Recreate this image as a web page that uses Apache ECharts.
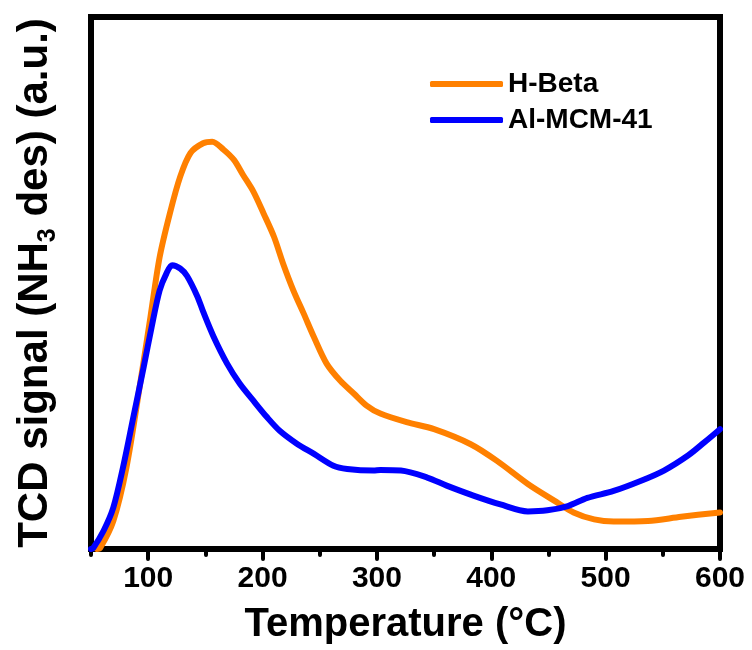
<!DOCTYPE html>
<html>
<head>
<meta charset="utf-8">
<script src="https://cdn.jsdelivr.net/npm/echarts@6/dist/echarts.min.js"></script>
<style>
html,body{margin:0;padding:0;background:#fff;}
#chart{width:752px;height:650px;}
</style>
</head>
<body>
<div id="chart"></div>
<script>
// Temperature (°C) sample points and TCD signal values (a.u.)
var tempOrange = [55, 58, 69.5, 81, 93, 102, 110, 119, 128, 137, 148, 156, 166, 175, 183, 192, 201, 210, 218, 227, 236, 245, 256, 268, 280, 291, 303, 326, 350, 382, 405, 432, 455, 472, 490, 507, 537, 566, 600];
var hBeta = [0, 0.2, 5.2, 15.2, 30.8, 43.2, 54.3, 62.5, 69.3, 73.7, 75.5, 75.8, 74.3, 72.4, 69.6, 66.5, 62.4, 58.1, 53.1, 48.1, 43.8, 39.4, 34.5, 31.3, 28.9, 26.7, 25.2, 23.6, 22.3, 19.5, 16.4, 12.1, 9.0, 6.8, 5.5, 5.1, 5.2, 6.0, 6.8];

var tempBlue = [50, 52, 61, 69.5, 78, 87, 96, 103, 110, 116, 121, 128, 134, 143, 148, 157, 169, 180, 192, 204, 215, 230, 245, 262, 274, 297, 303, 321, 344, 361, 385, 408, 432, 449, 467, 484, 507, 531, 551, 572, 586, 600];
var alMCM41 = [0, 0.2, 3.4, 7.7, 15.2, 24.5, 33.8, 41.3, 48.1, 51.3, 52.8, 52.2, 50.8, 47.0, 44.2, 39.6, 34.5, 30.8, 27.6, 24.5, 22.0, 19.6, 17.7, 15.5, 14.9, 14.6, 14.7, 14.6, 13.3, 11.8, 9.9, 8.3, 7.0, 7.2, 8.0, 9.5, 10.8, 12.7, 14.6, 17.4, 19.8, 22.3];

var seriesNames = ['H-Beta', 'Al-MCM-41'];
var majorTicks = [100, 200, 300, 400, 500, 600];
var minorTicks = [50, 150, 250, 350, 450, 550];

function pairs(xs, ys) { return xs.map(function (x, i) { return [x, ys[i]]; }); }

var FONT = 'Arial, "Liberation Sans", sans-serif';
var chart = echarts.init(document.getElementById('chart'), null, {renderer: 'canvas'});
chart.setOption({
  animation: false,
  backgroundColor: '#fff',
  grid: {left: 91, right: 32, top: 17, bottom: 101, show: true, borderColor: '#000', borderWidth: 6, backgroundColor: 'transparent', outerBoundsMode: 'none', containLabel: false},
  legend: {
    orient: 'vertical', left: 425, top: 64, itemGap: 6, itemWidth: 73, itemHeight: 6,
    icon: 'roundRect',
    data: seriesNames,
    textStyle: {fontFamily: FONT, fontWeight: 'bold', fontSize: 28, color: '#000', lineHeight: 30}
  },
  xAxis: [{
    type: 'value', min: 50, max: 600,
    axisLine: {show: true, lineStyle: {color: '#000', width: 6}},
    axisTick: {show: true, inside: false, length: 10, customValues: majorTicks, lineStyle: {color: '#000', width: 4, cap: 'round'}},
    axisLabel: {customValues: majorTicks, margin: 15, fontFamily: FONT, fontWeight: 'bold', fontSize: 30, color: '#000'},
    splitLine: {show: false},
    name: 'Temperature (°C)', nameLocation: 'middle', nameGap: 56,
    nameTextStyle: {fontFamily: FONT, fontWeight: 'bold', fontSize: 40, color: '#000'}
  }, {
    type: 'value', min: 50, max: 600, position: 'bottom',
    axisLine: {show: false},
    axisTick: {show: true, inside: false, length: 6, customValues: minorTicks, lineStyle: {color: '#000', width: 4, cap: 'round'}},
    axisLabel: {show: false},
    splitLine: {show: false}
  }],
  yAxis: {
    type: 'value', min: 0, max: 99,
    axisLine: {show: false}, axisTick: {show: false}, axisLabel: {show: false}, splitLine: {show: false},
    name: '{a|TCD signal (NH}{b|3}{a| des) (a.u.)}', nameLocation: 'middle', nameGap: 30,
    nameTextStyle: {
      fontFamily: FONT, fontWeight: 'bold', fontSize: 42, color: '#000',
      rich: {
        a: {fontFamily: FONT, fontWeight: 'bold', fontSize: 42, color: '#000', lineHeight: 42, verticalAlign: 'top'},
        b: {fontFamily: FONT, fontWeight: 'bold', fontSize: 25, color: '#000', lineHeight: 47, verticalAlign: 'bottom'}
      }
    }
  },
  series: [{
    name: seriesNames[0], type: 'line', xAxisIndex: 0, showSymbol: false, symbol: 'none', smooth: 0.3,
    lineStyle: {color: '#FF8000', width: 6, cap: 'round', join: 'round'}, itemStyle: {color: '#FF8000'},
    data: pairs(tempOrange, hBeta), z: 2
  }, {
    name: seriesNames[1], type: 'line', xAxisIndex: 0, showSymbol: false, symbol: 'none', smooth: 0.3,
    lineStyle: {color: '#0000FF', width: 6, cap: 'round', join: 'round'}, itemStyle: {color: '#0000FF'},
    data: pairs(tempBlue, alMCM41), z: 3
  }]
});
</script>
</body>
</html>
